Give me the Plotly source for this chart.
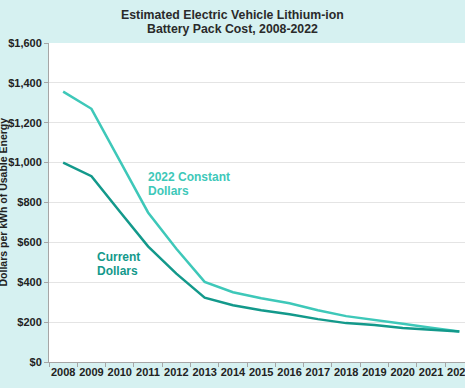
import plotly.graph_objects as go

years = list(range(2008, 2023))
constant_2022 = [1356, 1270, 1010, 750, 568, 402, 350, 320, 295, 260, 230, 212, 192, 172, 153]
current = [1000, 932, 755, 580, 443, 323, 285, 260, 240, 215, 195, 185, 170, 160, 153]
title_lines = ["Estimated Electric Vehicle Lithium-ion", "Battery Pack Cost, 2008-2022"]
y_title = "Dollars per kWh of Usable Energy"

c_const = "#3EC8B9"
c_curr = "#13998B"
font_family = "Liberation Sans, Arial, sans-serif"

PLOT_TOP, PLOT_BOTTOM, PLOT_LEFT, PLOT_W = 43, 362, 49, 416


def py(p):  # pixel y -> paper y
    return (PLOT_BOTTOM - p) / (PLOT_BOTTOM - PLOT_TOP)


def px(p):  # pixel x -> paper x
    return (p - PLOT_LEFT) / PLOT_W


fig = go.Figure()
fig.add_trace(go.Scatter(x=years, y=constant_2022, mode="lines",
                         line=dict(color=c_const, width=2.5), name="2022 Constant Dollars"))
fig.add_trace(go.Scatter(x=years, y=current, mode="lines",
                         line=dict(color=c_curr, width=2.5), name="Current Dollars"))

fig.update_layout(
    width=465, height=388,
    margin=dict(l=PLOT_LEFT, r=0, t=PLOT_TOP, b=388 - PLOT_BOTTOM),
    paper_bgcolor="#D6F1F1",
    plot_bgcolor="#FFFFFF",
    showlegend=False,
    font=dict(family=font_family, color="#222222"),
)

fig.update_xaxes(
    range=[2007.5, 2022.2],
    tickvals=years, ticktext=[str(y) for y in years],
    ticks="", showgrid=False, zeroline=False,
    showline=True, linecolor="#A6A6A6", linewidth=1,
    tickfont=dict(size=11, weight="bold", color="#222222"),
    ticklabeloverflow="allow",
    automargin=False,
    minor=dict(tick0=2007.5, dtick=1, ticks="outside", ticklen=4, tickcolor="#A6A6A6", showgrid=False),
)
fig.update_yaxes(
    range=[0, 1600], dtick=200, tickprefix="$", tickformat=",d",
    ticks="outside", ticklen=4, tickcolor="#A6A6A6",
    showgrid=True, gridcolor="#E4E4E4", gridwidth=1, zeroline=False,
    showline=True, linecolor="#A6A6A6", linewidth=1,
    tickfont=dict(size=11, weight="bold", color="#222222"),
    automargin=False,
)

# title (two lines, tight spacing like the reference)
for line, yc in zip(title_lines, [15, 28.5]):
    fig.add_annotation(text=line, xref="paper", yref="paper", x=px(232.5), y=py(yc),
                       xanchor="center", yanchor="middle", showarrow=False,
                       font=dict(size=12.3, weight="bold", color="#2a2a2a"))

fig.add_annotation(text=y_title, xref="paper", yref="paper",
                   x=px(2.5), y=py(202), xanchor="center", yanchor="middle", textangle=-90,
                   showarrow=False, font=dict(size=10.5, weight="bold", color="#222222"))

for line, yc in zip(["2022 Constant", "Dollars"], [177, 190.5]):
    fig.add_annotation(text=line, xref="paper", yref="paper", x=px(146), y=py(yc),
                       xanchor="left", yanchor="middle", showarrow=False,
                       font=dict(size=12, weight="bold", color=c_const))
for line, yc in zip(["Current", "Dollars"], [257, 271]):
    fig.add_annotation(text=line, xref="paper", yref="paper", x=px(95), y=py(yc),
                       xanchor="left", yanchor="middle", showarrow=False,
                       font=dict(size=12, weight="bold", color=c_curr))

fig.write_html("out.html", config={"displayModeBar": False},
               post_script="document.body.style.margin='0';document.body.style.overflow='hidden';")
